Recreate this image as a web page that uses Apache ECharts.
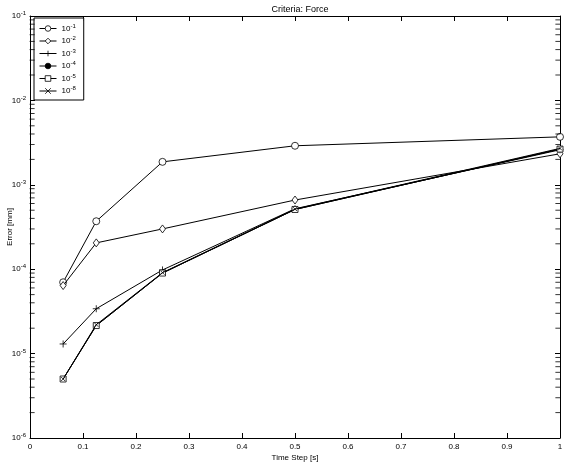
<!DOCTYPE html>
<html>
<head>
<meta charset="utf-8">
<script src="https://cdn.jsdelivr.net/npm/echarts@6/dist/echarts.min.js"></script>
<style>
  html, body { margin: 0; padding: 0; background: #fff; }
  #main { width: 566px; height: 474px; }
</style>
</head>
<body>
<div id="main"></div>
<script>
// time steps (x)
const timeSteps = [0.0625, 0.125, 0.25, 0.5, 1]
// series names (criteria tolerances)
const seriesNames = ['10^-1', '10^-2', '10^-3', '10^-4', '10^-5', '10^-8']
// error values per series [mm]
const err1 = [7.0e-5, 3.7e-4, 1.87e-3, 2.9e-3, 3.7e-3]
const err2 = [6.4e-5, 2.05e-4, 3.0e-4, 6.6e-4, 2.33e-3]
const err3 = [1.3e-5, 3.4e-5, 9.8e-5, 5.2e-4, 2.6e-3]
const err4 = [5.0e-6, 2.15e-5, 9.0e-5, 5.1e-4, 2.65e-3]
const err5 = [5.0e-6, 2.15e-5, 9.0e-5, 5.1e-4, 2.65e-3]
const err6 = [5.0e-6, 2.2e-5, 9.1e-5, 5.15e-4, 2.7e-3]
const xTicks = [0, 0.1, 0.2, 0.3, 0.4, 0.5, 0.6, 0.7, 0.8, 0.9, 1]

const allErr = [err1, err2, err3, err4, err5, err6]
const symbols = [
  'circle',
  'diamond',
  'path://M5,0L5,10M0,5L10,5',
  'circle',
  'rect',
  'path://M0,0L10,10M10,0L0,10'
]
const sizes = [7, [6, 8], 7, 4, 6, 4]
const fills = ['#fff', '#fff', '#000', '#000', '#fff', '#000']

const font = 'Liberation Sans, Arial, sans-serif'

// minor tick values for the log axis (2..9 x 10^n)
const minorVals = []
for (let e = -6; e < -1; e++) {
  for (let k = 2; k <= 9; k++) minorVals.push(k * Math.pow(10, e))
}

function expLabel (v) {
  const e = Math.round(Math.log10(v))
  return '10{s|' + e + '}'
}
function nameLabel (n) {
  return '10{s|' + n.split('^')[1] + '}'
}

const myChart = echarts.init(document.getElementById('main'))

const series = allErr.map((arr, i) => ({
  name: seriesNames[i],
  type: 'line',
  data: arr.map((v, j) => [timeSteps[j], v]),
  symbol: symbols[i],
  symbolSize: sizes[i],
  showAllSymbol: true,
  lineStyle: { color: '#000', width: 1 },
  itemStyle: { color: fills[i], borderColor: '#000', borderWidth: 0.8 },
  emphasis: { disabled: true },
  z: 2 + i
}))

// minor ticks as short dashes just inside the left and right frame edges
series.push({
  name: 'minorL',
  type: 'scatter',
  data: minorVals.map(v => [0.004, v]),
  symbol: 'rect',
  symbolSize: [5, 1],
  silent: true,
  itemStyle: { color: '#000' },
  z: 20
})
series.push({
  name: 'minorR',
  type: 'scatter',
  data: minorVals.map(v => [0.996, v]),
  symbol: 'rect',
  symbolSize: [5, 1],
  silent: true,
  itemStyle: { color: '#000' },
  z: 20
})

const option = {
  backgroundColor: '#fff',
  animation: false,
  title: {
    text: 'Criteria: Force',
    left: 295,
    textAlign: 'center',
    top: 0,
    textStyle: { fontFamily: font, fontSize: 9, fontWeight: 'normal', color: '#000' }
  },
  legend: {
    orient: 'vertical',
    left: 34,
    top: 18,
    padding: [5, 8, 5, 5],
    itemGap: 3,
    itemWidth: 17,
    itemHeight: 7,
    borderColor: '#000',
    borderWidth: 1,
    backgroundColor: '#fff',
    data: seriesNames,
    formatter: nameLabel,
    lineStyle: { width: 1 },
    itemStyle: { borderWidth: 0.8 },
    textStyle: {
      fontFamily: font,
      fontSize: 8,
      color: '#000',
      rich: { s: { fontSize: 6, verticalAlign: 'top', padding: [0, 0, 5, 0], fontFamily: font } }
    }
  },
  grid: { left: 30, right: 6, top: 16, bottom: 36, outerBoundsMode: 'none' },
  xAxis: [{
    type: 'value',
    min: 0,
    max: 1,
    interval: 0.1,
    name: 'Time Step [s]',
    nameLocation: 'middle',
    nameGap: 16,
    nameMoveOverlap: false,
    nameTextStyle: { fontFamily: font, fontSize: 8, color: '#000' },
    axisLine: { onZero: false, lineStyle: { color: '#000', width: 1 } },
    axisTick: { inside: true, length: 5, lineStyle: { color: '#000' } },
    axisLabel: { fontFamily: font, fontSize: 8, color: '#000', margin: 5,
      formatter: v => xTicks.includes(+Number(v).toFixed(1)) ? String(+Number(v).toFixed(1)) : '' },
    splitLine: { show: false }
  }, {
    type: 'value',
    position: 'top',
    min: 0,
    max: 1,
    interval: 0.1,
    axisLine: { show: true, onZero: false, lineStyle: { color: '#000', width: 1 } },
    axisTick: { inside: true, length: 5, lineStyle: { color: '#000' } },
    axisLabel: { show: false },
    splitLine: { show: false }
  }],
  yAxis: [{
    type: 'log',
    logBase: 10,
    min: 1e-6,
    max: 1e-1,
    name: 'Error [mm]',
    nameLocation: 'middle',
    nameGap: 16,
    nameMoveOverlap: false,
    nameTextStyle: { fontFamily: font, fontSize: 8, color: '#000' },
    axisLine: { show: true, onZero: false, lineStyle: { color: '#000', width: 1 } },
    axisTick: { inside: true, length: 5, lineStyle: { color: '#000' } },
    axisLabel: {
      fontFamily: font,
      fontSize: 8,
      color: '#000',
      margin: 4,
      formatter: expLabel,
      rich: { s: { fontSize: 6, verticalAlign: 'top', padding: [0, 0, 5, 0], fontFamily: font } }
    },
    splitLine: { show: false }
  }, {
    type: 'log',
    logBase: 10,
    min: 1e-6,
    max: 1e-1,
    position: 'right',
    axisLine: { show: true, onZero: false, lineStyle: { color: '#000', width: 1 } },
    axisTick: { inside: true, length: 5, lineStyle: { color: '#000' } },
    axisLabel: { show: false },
    splitLine: { show: false }
  }],
  series: series
}

myChart.setOption(option)
</script>
</body>
</html>
